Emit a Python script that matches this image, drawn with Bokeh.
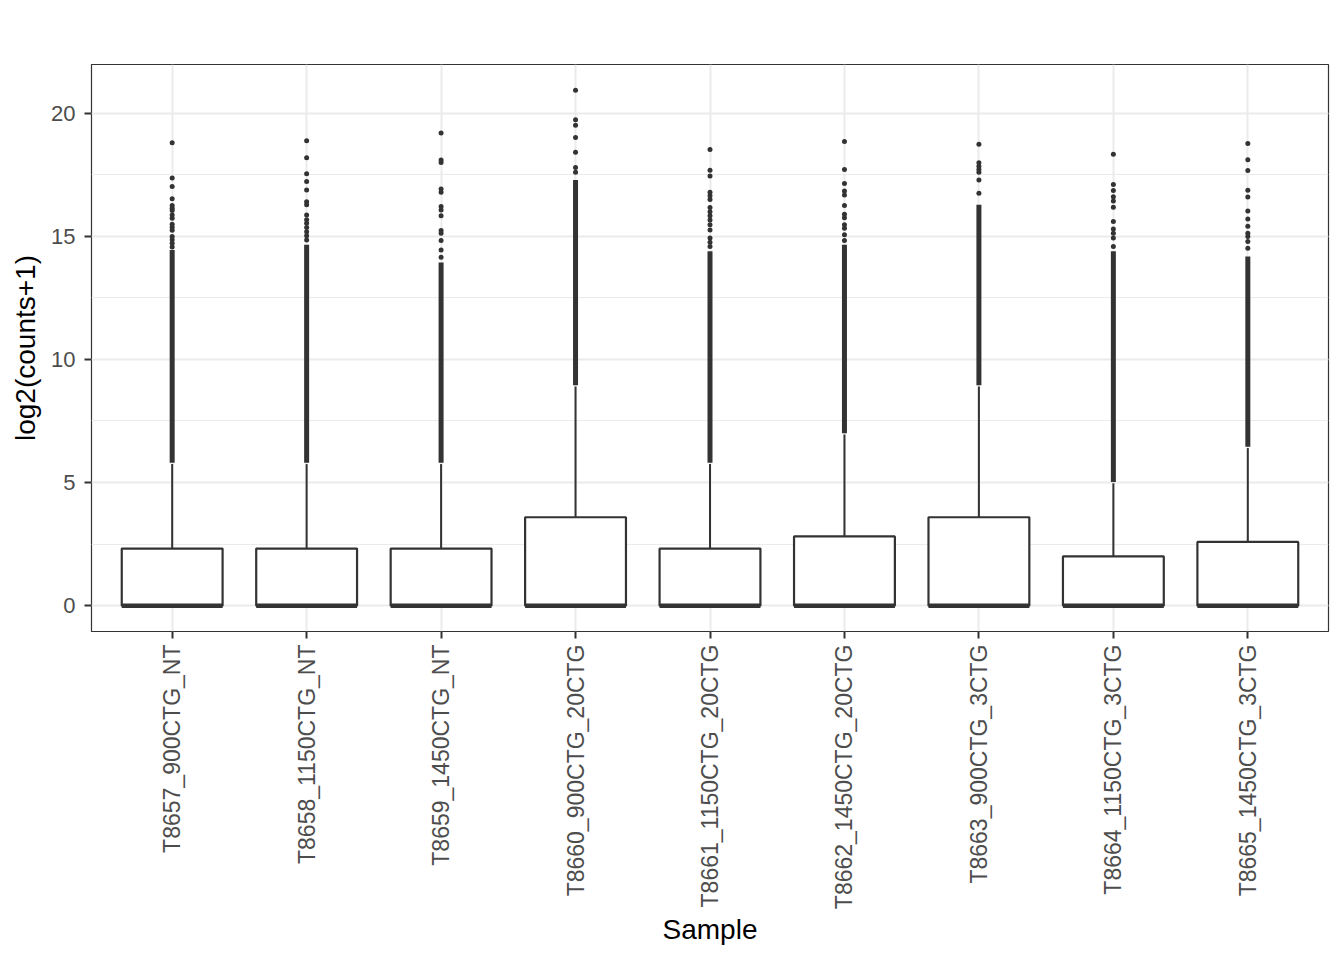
from bokeh.plotting import figure
from bokeh.models import FactorRange, Range1d, SingleIntervalTicker, ColumnDataSource
from bokeh.transform import dodge
from bokeh.embed import file_html
from bokeh.resources import INLINE
import math

# ---- data ----
samples = ["T8657_900CTG_NT", "T8658_1150CTG_NT", "T8659_1450CTG_NT",
           "T8660_900CTG_20CTG", "T8661_1150CTG_20CTG", "T8662_1450CTG_20CTG",
           "T8663_900CTG_3CTG", "T8664_1150CTG_3CTG", "T8665_1450CTG_3CTG"]
q1 = [0, 0, 0, 0, 0, 0, 0, 0, 0]
median = [0, 0, 0, 0, 0, 0, 0, 0, 0]
q3 = [2.32, 2.32, 2.32, 3.59, 2.32, 2.81, 3.59, 2.0, 2.59]
whisker_lo = [0, 0, 0, 0, 0, 0, 0, 0, 0]
whisker_hi = [5.75, 5.75, 5.75, 8.9, 5.75, 6.95, 8.9, 4.97, 6.4]
# densely packed outliers (continuous run of points)
dense_lo = [5.8, 5.8, 5.8, 8.95, 5.8, 7.0, 8.95, 5.02, 6.45]
dense_hi = [14.45, 14.66, 13.94, 17.29, 14.39, 14.66, 16.28, 14.39, 14.18]
# isolated outliers above the dense run
outliers = {
    "T8657_900CTG_NT": [18.80, 17.37, 17.02, 16.53, 16.25, 16.14, 16.05, 15.87, 15.74,
                        15.49, 15.37, 15.25, 14.99, 14.86, 14.72, 14.57],
    "T8658_1150CTG_NT": [18.88, 18.19, 17.54, 17.23, 16.88, 16.41, 16.28, 15.87, 15.67,
                         15.53, 15.36, 15.19, 15.02, 14.85],
    "T8659_1450CTG_NT": [19.20, 18.10, 18.00, 16.92, 16.79, 16.21, 16.07, 15.84, 15.24,
                         15.13, 14.83, 14.45, 14.15],
    "T8660_900CTG_20CTG": [20.93, 19.74, 19.51, 19.02, 18.42, 17.80, 17.60],
    "T8661_1150CTG_20CTG": [18.53, 17.68, 17.45, 16.79, 16.65, 16.50, 16.17, 16.00, 15.84,
                            15.66, 15.47, 15.26, 14.93, 14.76, 14.59],
    "T8662_1450CTG_20CTG": [18.85, 17.72, 17.15, 16.84, 16.68, 16.25, 15.90, 15.76, 15.47,
                            15.33, 15.06, 14.83],
    "T8663_900CTG_3CTG": [18.74, 17.99, 17.85, 17.72, 17.60, 17.29, 16.75],
    "T8664_1150CTG_3CTG": [18.33, 17.11, 16.86, 16.61, 16.44, 16.18, 15.60, 15.30, 15.13,
                           14.93, 14.59],
    "T8665_1450CTG_3CTG": [18.77, 18.11, 17.67, 16.87, 16.60, 16.03, 15.70, 15.41, 15.13,
                           14.99, 14.79, 14.52],
}
y_ticks = [0, 5, 10, 15, 20]

out_x = [s for s in samples for _ in outliers[s]]
out_y = [v for s in samples for v in outliers[s]]

INK = "#333333"
GRID = "#EBEBEB"
FONT = "Liberation Sans"

p = figure(width=1336, height=952, output_backend="svg", toolbar_location=None,
           x_range=FactorRange(*samples, range_padding=0.2 / 9, range_padding_units="percent"),
           y_range=Range1d(-1.05, 21.98),
           min_border_left=91, min_border_right=8, min_border_top=64, min_border_bottom=321,
           x_axis_label="Sample", y_axis_label="log2(counts+1)")

src = ColumnDataSource(dict(sample=samples, q1=q1, med=median, q3=q3,
                            wlo=whisker_lo, whi=whisker_hi, dlo=dense_lo, dhi=dense_hi))

# whiskers
p.segment(x0="sample", y0="q3", x1="sample", y1="whi", source=src, line_color=INK, line_width=2)
p.segment(x0="sample", y0="q1", x1="sample", y1="wlo", source=src, line_color=INK, line_width=2)
# dense outlier runs
p.segment(x0="sample", y0="dlo", x1="sample", y1="dhi", source=src, line_color=INK, line_width=5)
# isolated outliers
p.scatter(out_x, out_y, size=5, fill_color=INK, line_color=None)
# boxes
p.vbar(x="sample", width=0.75, bottom="q1", top="q3", source=src,
       fill_color="white", line_color=INK, line_width=2.2)
# medians
p.segment(x0=dodge("sample", -0.375, range=p.x_range), y0="med",
          x1=dodge("sample", 0.375, range=p.x_range), y1="med",
          source=src, line_color=INK, line_width=4.5)

# styling (theme_bw-like)
p.background_fill_color = "white"
p.border_fill_color = "white"
p.outline_line_color = INK
p.outline_line_width = 1.2

p.yaxis.ticker = SingleIntervalTicker(interval=5, num_minor_ticks=2)
p.ygrid.ticker = p.yaxis.ticker
p.ygrid.grid_line_color = GRID
p.ygrid.grid_line_width = 2
p.ygrid.minor_grid_line_color = GRID
p.ygrid.minor_grid_line_width = 1
p.xgrid.grid_line_color = GRID
p.xgrid.grid_line_width = 2

for ax in (p.xaxis[0], p.yaxis[0]):
    ax.axis_line_color = None
    ax.major_tick_line_color = INK
    ax.major_tick_line_width = 2
    ax.major_tick_out = 7
    ax.major_tick_in = 0
    ax.minor_tick_line_color = None
    ax.major_label_text_font = FONT
    ax.major_label_text_color = "#4D4D4D"
    ax.axis_label_text_font = FONT
    ax.axis_label_text_font_size = "28px"
    ax.axis_label_text_font_style = "normal"
    ax.axis_label_text_color = "black"

p.xaxis.major_label_text_font_size = "23px"
p.yaxis.major_label_text_font_size = "22px"
p.xaxis.major_label_orientation = math.pi / 2
p.xaxis.major_label_standoff = 6
p.yaxis.major_label_standoff = 9
p.xaxis.axis_label_standoff = 2
p.yaxis.axis_label_standoff = 7
p.xaxis.group_text_font_size = "0px"

open("out.html", "w").write(file_html(p, INLINE))
